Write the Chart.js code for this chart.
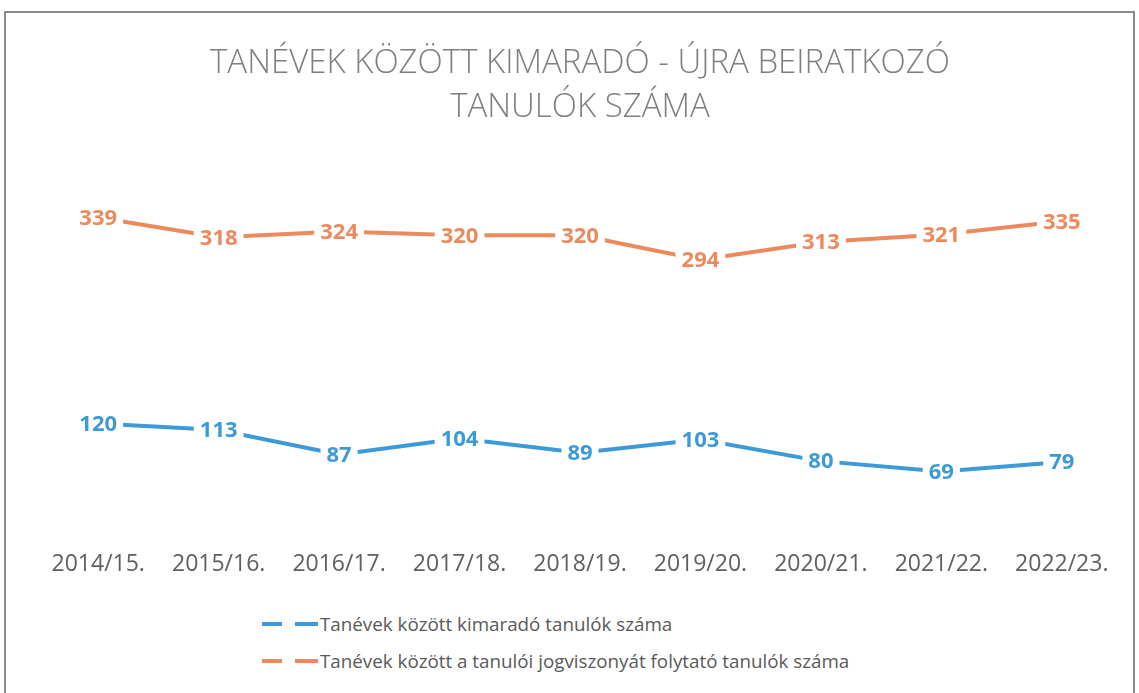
<!DOCTYPE html>
<html>
<head>
<meta charset="utf-8">
<script src="https://cdn.jsdelivr.net/npm/chart.js@4.4.0/dist/chart.umd.min.js"></script>
<style>
  body { margin: 0; background: #fff; width: 1139px; height: 693px; overflow: hidden; position: relative; }
  #frame { position: absolute; left: 4px; top: 11px; width: 1131px; height: 700px; border: 2px solid #8a8a8a; box-sizing: border-box; }
  #wrap { position: absolute; left: 0; top: 0; width: 1139px; height: 584px; }
  #legend { position: absolute; left: 262px; top: 605px; font-family: "Open Sans", sans-serif; font-size: 18.8px; color: #595959; }
  .item { display: flex; align-items: center; height: 37px; }
  .item svg { margin-right: 2px; }
</style>
</head>
<body>
<div id="frame"></div>
<div id="wrap"><canvas id="chart"></canvas></div>
<div id="legend"></div>
<script>
// data
const years = ["2014/15.", "2015/16.", "2016/17.", "2017/18.", "2018/19.", "2019/20.", "2020/21.", "2021/22.", "2022/23."];
const dropouts = [120, 113, 87, 104, 89, 103, 80, 69, 79];
const continuing = [339, 318, 324, 320, 320, 294, 313, 321, 335];
const seriesNames = [
  "Tanévek között kimaradó tanulók száma",
  "Tanévek között a tanulói jogviszonyát folytató tanulók száma"
];
const blue = "#3d9ad9";
const orange = "#ec8a5e";

// labels sit on the line with a white box behind them
const pointLabels = {
  id: "pointLabels",
  afterDatasetsDraw(chart) {
    const ctx = chart.ctx;
    ctx.save();
    ctx.font = "bold 22px 'Open Sans', sans-serif";
    ctx.textAlign = "center";
    ctx.textBaseline = "middle";
    chart.data.datasets.forEach((ds, i) => {
      const meta = chart.getDatasetMeta(i);
      meta.data.forEach((pt, j) => {
        const txt = String(ds.data[j]);
        const w = ctx.measureText(txt).width;
        ctx.fillStyle = "#fff";
        ctx.fillRect(pt.x - w / 2 - 6, pt.y - 13, w + 12, 26);
        ctx.fillStyle = ds.borderColor;
        ctx.fillText(txt, pt.x, pt.y + 1);
      });
    });
    ctx.restore();
  }
};

const chart = new Chart(document.getElementById("chart"), {
  type: "line",
  data: {
    labels: years,
    datasets: [
      { label: seriesNames[0], data: dropouts, borderColor: blue, borderWidth: 4, pointRadius: 0, tension: 0 },
      { label: seriesNames[1], data: continuing, borderColor: orange, borderWidth: 4, pointRadius: 0, tension: 0 }
    ]
  },
  options: {
    responsive: true,
    maintainAspectRatio: false,
    animation: false,
    layout: { padding: { left: 38, right: 17, top: 41, bottom: 0 } },
    plugins: {
      legend: { display: false },
      tooltip: { enabled: false },
      title: {
        display: true,
        text: ["TANÉVEK KÖZÖTT KIMARADÓ - ÚJRA BEIRATKOZÓ", "TANULÓK SZÁMA"],
        color: "#7f7f7f",
        font: { family: "'Open Sans', sans-serif", size: 33, weight: 300, lineHeight: 1.35 },
        padding: { top: 0, bottom: 30 }
      }
    },
    scales: {
      x: {
        offset: true,
        grid: { display: false },
        border: { display: false },
        ticks: { color: "#606060", font: { family: "'Open Sans', sans-serif", size: 23 }, padding: 6, maxRotation: 0 }
      },
      y: { display: false, min: 0, max: 400 }
    }
  },
  plugins: [pointLabels]
});

// legend, one row per series
const legendEl = document.getElementById("legend");
[blue, orange].forEach((c, i) => {
  const row = document.createElement("div");
  row.className = "item";
  row.innerHTML = `<svg width="56" height="10"><line x1="0" y1="5" x2="56" y2="5" stroke="${c}" stroke-width="4" stroke-dasharray="20 13 23 0"/></svg><span>${seriesNames[i]}</span>`;
  legendEl.appendChild(row);
});
</script>
</body>
</html>
